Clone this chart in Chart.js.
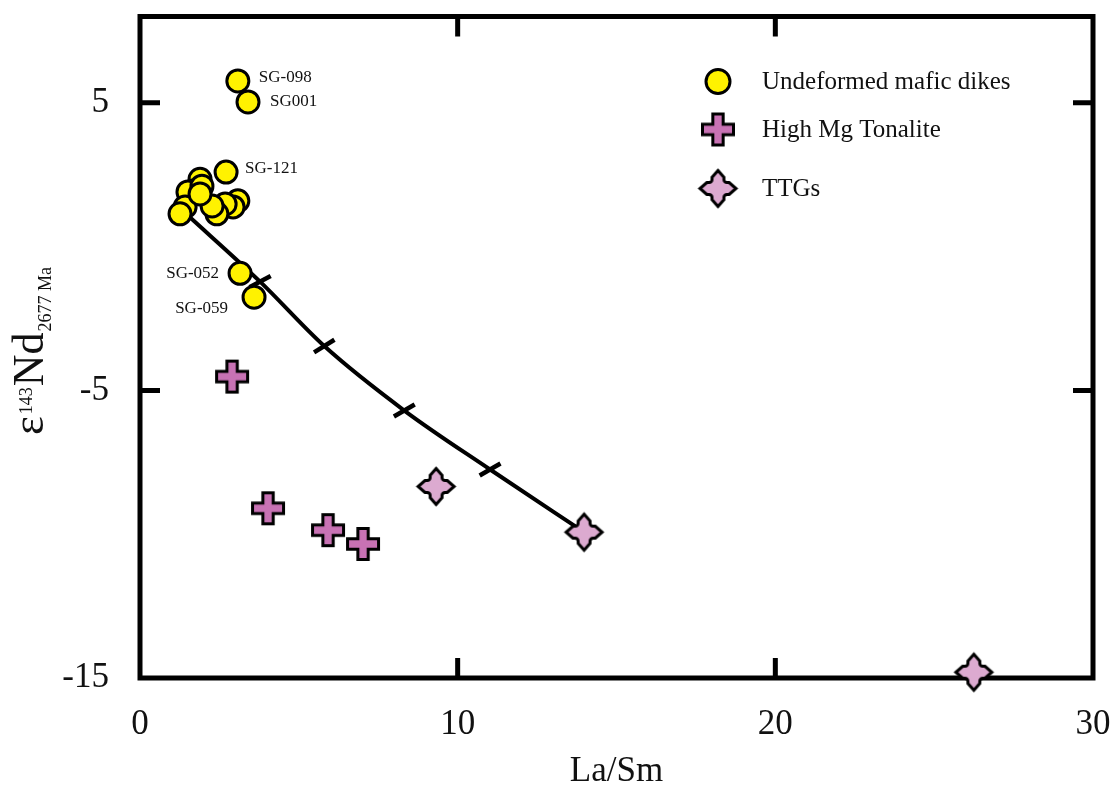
<!DOCTYPE html>
<html>
<head>
<meta charset="utf-8">
<title>La/Sm vs εNd</title>
<script src="https://cdn.jsdelivr.net/npm/chart.js@4.4.1/dist/chart.umd.min.js"></script>
<style>
  html, body { margin: 0; padding: 0; background: #fff; }
  #wrap { width: 1117px; height: 793px; }
</style>
</head>
<body>
<div id="wrap"><canvas id="ndChart" width="1117" height="793"></canvas></div>
<script>
const FONT = '"Liberation Serif", "Times New Roman", serif';

// Undeformed mafic dikes (La/Sm, eNd at 2677 Ma); blank name = no label
const dikeX = [1.89, 1.67, 1.51, 1.95, 1.42, 3.08, 2.93, 2.68, 2.42, 2.27, 1.26, 1.89, 2.71, 3.08, 3.40, 3.15, 3.59];
const dikeY = [2.34, 1.93, 1.90, 2.10, 1.38, 1.59, 1.38, 1.48, 1.14, 1.41, 1.14, 1.83, 2.59, 5.76, 5.03, -0.93, -1.76];
const dikeNames = ['', '', '', '', '', '', '', '', '', '', '', '', 'SG-121', 'SG-098', 'SG001', 'SG-052', 'SG-059'];

// High Mg tonalite
const tonaliteX = [2.90, 4.03, 5.92, 7.02];
const tonaliteY = [-4.52, -9.10, -9.86, -10.34];

// TTGs
const ttgX = [9.32, 13.98, 26.25];
const ttgY = [-8.34, -9.93, -14.8];

// mixing curve and its increment marks
const mixX = [1.45, 3.78, 5.80, 8.32, 11.02, 13.98];
const mixY = [1.14, -1.22, -3.46, -5.70, -7.75, -9.93];
const markX = [3.78, 5.80, 8.32, 11.02];
const markY = [-1.22, -3.46, -5.70, -7.75];
const markRotation = [-28, -32, -30, -30];

const xTicks = [0, 10, 20, 30];
const yTicks = [-15, -5, 5];

// where each sample name sits relative to its circle
const labelOffsets = {
  'SG-098': [21, -3, 'left'],
  'SG001': [22, 0, 'left'],
  'SG-121': [19, -4, 'left'],
  'SG-052': [-21, 0, 'right'],
  'SG-059': [-26, 11, 'right']
};

const pts = (xs, ys) => xs.map((x, i) => ({ x: x, y: ys[i] }));

function makeCross(size, fill) {
  const lw = 3, n = size + lw + 2;
  const c = document.createElement('canvas');
  c.width = c.height = n;
  const g = c.getContext('2d');
  g.translate(n / 2, n / 2);
  const r = size / 2, a = size / 6;
  g.beginPath();
  g.moveTo(-a, -r); g.lineTo(a, -r); g.lineTo(a, -a); g.lineTo(r, -a);
  g.lineTo(r, a); g.lineTo(a, a); g.lineTo(a, r); g.lineTo(-a, r);
  g.lineTo(-a, a); g.lineTo(-r, a); g.lineTo(-r, -a); g.lineTo(-a, -a);
  g.closePath();
  g.fillStyle = fill;
  g.fill();
  g.lineWidth = lw;
  g.lineJoin = 'miter';
  g.strokeStyle = '#000';
  g.stroke();
  return c;
}

// plus with pointed tips and rounded inner corners
function makeStar(size, fill) {
  const lw = 3, n = size + lw + 4;
  const c = document.createElement('canvas');
  c.width = c.height = n;
  const g = c.getContext('2d');
  g.translate(n / 2, n / 2);
  const R = size / 2, a = size * 0.165, s = size * 0.31, rr = 3;
  g.beginPath();
  g.moveTo(0, -R);
  g.lineTo(a, -s); g.arcTo(a, -a, s, -a, rr); g.lineTo(s, -a);
  g.lineTo(R, 0);
  g.lineTo(s, a); g.arcTo(a, a, a, s, rr); g.lineTo(a, s);
  g.lineTo(0, R);
  g.lineTo(-a, s); g.arcTo(-a, a, -s, a, rr); g.lineTo(-s, a);
  g.lineTo(-R, 0);
  g.lineTo(-s, -a); g.arcTo(-a, -a, -a, -s, rr); g.lineTo(-a, -s);
  g.closePath();
  g.fillStyle = fill;
  g.fill();
  g.lineWidth = lw;
  g.lineJoin = 'miter';
  g.strokeStyle = '#000';
  g.stroke();
  return c;
}

const tonaliteIcon = makeCross(31, '#c872b4');
const ttgIcon = makeStar(36, '#dcaad0');

// box round the plot with inward ticks
const frame = {
  id: 'frame',
  beforeDatasetsDraw(chart) {
    const { ctx, chartArea: a, scales: { x, y } } = chart;
    ctx.save();
    ctx.strokeStyle = '#000';
    ctx.lineWidth = 5;
    ctx.lineJoin = 'miter';
    ctx.strokeRect(a.left, a.top, a.right - a.left, a.bottom - a.top);
    ctx.beginPath();
    x.ticks.forEach(t => {
      if (t.value <= x.min || t.value >= x.max) return;
      const px = x.getPixelForValue(t.value);
      ctx.moveTo(px, a.bottom); ctx.lineTo(px, a.bottom - 20);
      ctx.moveTo(px, a.top); ctx.lineTo(px, a.top + 20);
    });
    y.ticks.forEach(t => {
      if (t.value <= y.min || t.value >= y.max) return;
      const py = y.getPixelForValue(t.value);
      ctx.moveTo(a.left, py); ctx.lineTo(a.left + 20, py);
      ctx.moveTo(a.right, py); ctx.lineTo(a.right - 20, py);
    });
    ctx.stroke();
    ctx.restore();
  }
};

const sampleNames = {
  id: 'sampleNames',
  afterDatasetsDraw(chart) {
    const ctx = chart.ctx;
    const meta = chart.getDatasetMeta(0);
    ctx.save();
    ctx.font = '17px ' + FONT;
    ctx.fillStyle = '#111';
    ctx.textBaseline = 'middle';
    dikeNames.forEach((name, i) => {
      if (!name) return;
      const p = meta.data[i];
      const o = labelOffsets[name];
      ctx.textAlign = o[2];
      ctx.fillText(name, p.x + o[0], p.y + o[1]);
    });
    ctx.restore();
  }
};

const keyBox = {
  id: 'keyBox',
  afterDatasetsDraw(chart) {
    const { ctx, chartArea: a } = chart;
    const rows = [65, 113, 172];
    const mx = a.right - 375;
    ctx.save();
    ctx.font = '25px ' + FONT;
    ctx.textBaseline = 'middle';
    ctx.textAlign = 'left';
    [0, 1, 2].forEach((di, k) => {
      const ds = chart.data.datasets[di];
      const cy = a.top + rows[k];
      if (ds.pointStyle === 'circle') {
        ctx.beginPath();
        ctx.arc(mx, cy, 12, 0, Math.PI * 2);
        ctx.fillStyle = ds.pointBackgroundColor;
        ctx.fill();
        ctx.lineWidth = 3;
        ctx.strokeStyle = '#000';
        ctx.stroke();
      } else {
        const img = ds.pointStyle;
        ctx.drawImage(img, mx - img.width / 2, cy - img.height / 2);
      }
      ctx.fillStyle = '#111';
      ctx.fillText(ds.label, mx + 44, cy + 1);
    });
    ctx.restore();
  }
};

// εNd axis title with super- and subscripts
const yTitle = {
  id: 'yTitle',
  afterDraw(chart) {
    const ctx = chart.ctx;
    const parts = [
      { t: 'ε', size: 45, dy: 0 },
      { t: '143', size: 18, dy: -11, gapBefore: 2 },
      { t: 'Nd', size: 44, dy: 0, gapBefore: 1 },
      { t: '2677 Ma', size: 18, dy: 8, gapBefore: 1 }
    ];
    ctx.save();
    ctx.fillStyle = '#111';
    ctx.textBaseline = 'alphabetic';
    ctx.textAlign = 'left';
    let total = 0;
    parts.forEach(p => {
      ctx.font = p.size + 'px ' + FONT;
      p.w = ctx.measureText(p.t).width;
      total += p.w + (p.gapBefore || 0);
    });
    ctx.translate(43, 351);
    ctx.rotate(-Math.PI / 2);
    let cx = -total / 2;
    parts.forEach(p => {
      cx += p.gapBefore || 0;
      ctx.font = p.size + 'px ' + FONT;
      ctx.fillText(p.t, cx, p.dy);
      cx += p.w;
    });
    ctx.restore();
  }
};

new Chart(document.getElementById('ndChart'), {
  type: 'scatter',
  data: {
    datasets: [
      {
        label: 'Undeformed mafic dikes',
        data: pts(dikeX, dikeY),
        pointStyle: 'circle',
        pointRadius: 11,
        pointBackgroundColor: '#fff200',
        pointBorderColor: '#000',
        pointBorderWidth: 3,
        clip: false
      },
      {
        label: 'High Mg Tonalite',
        data: pts(tonaliteX, tonaliteY),
        pointStyle: tonaliteIcon,
        clip: false
      },
      {
        label: 'TTGs',
        data: pts(ttgX, ttgY),
        pointStyle: ttgIcon,
        clip: false
      },
      {
        label: 'increments',
        data: pts(markX, markY),
        pointStyle: 'line',
        pointRadius: 12,
        pointRotation: markRotation,
        pointBorderColor: '#000',
        pointBorderWidth: 4.5,
        clip: false
      },
      {
        label: 'mixing',
        type: 'line',
        data: pts(mixX, mixY),
        showLine: true,
        borderColor: '#000',
        borderWidth: 4,
        pointRadius: 0,
        cubicInterpolationMode: 'monotone',
        fill: false,
        clip: false
      }
    ]
  },
  options: {
    responsive: false,
    animation: false,
    events: [],
    layout: { padding: { left: 0, right: 24, top: 10, bottom: 0 } },
    plugins: {
      legend: { display: false },
      tooltip: { enabled: false }
    },
    scales: {
      x: {
        type: 'linear',
        position: 'bottom',
        min: 0,
        max: 30,
        afterBuildTicks: s => { s.ticks = xTicks.map(v => ({ value: v })); },
        afterFit: s => { s.height = 115; s.paddingLeft = 0; s.paddingRight = 0; },
        grid: { display: false },
        border: { display: false },
        ticks: { font: { family: FONT, size: 35 }, color: '#111', padding: 18, maxRotation: 0 },
        title: {
          display: true,
          text: 'La/Sm',
          font: { family: FONT, size: 35 },
          color: '#111',
          padding: { top: 0, bottom: 0 }
        }
      },
      y: {
        type: 'linear',
        min: -15,
        max: 8,
        afterBuildTicks: s => { s.ticks = yTicks.map(v => ({ value: v })); },
        afterFit: s => { s.width = 140; s.paddingTop = 0; s.paddingBottom = 0; },
        grid: { display: false },
        border: { display: false },
        ticks: { font: { family: FONT, size: 35 }, color: '#111', padding: 23 }
      }
    }
  },
  plugins: [frame, sampleNames, keyBox, yTitle]
});
</script>
</body>
</html>
